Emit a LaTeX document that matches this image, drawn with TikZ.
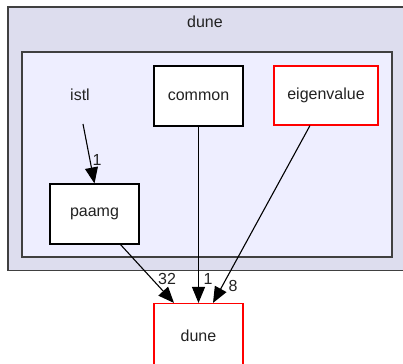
\documentclass[tikz,border=0pt]{standalone}
\usepackage{fontspec}
\setmainfont{Liberation Sans}
\usetikzlibrary{arrows.meta}
\definecolor{outerfill}{HTML}{DDDDEE}
\definecolor{innerfill}{HTML}{EEEEFF}
\definecolor{frame}{HTML}{404040}
\definecolor{txt}{HTML}{222222}
\tikzset{
  lbl/.style={font=\fontsize{16}{18}\selectfont, text=txt},
  dirbox/.style={lbl, draw=black, fill=white, line width=1.1pt, minimum width=89pt, minimum height=60pt, inner sep=0pt},
  redbox/.style={dirbox, draw=red},
  dep/.style={line width=1.1pt, -{Triangle[length=16pt, width=13pt]}},
  cnt/.style={lbl, inner sep=1pt}
}
\begin{document}
\begin{tikzpicture}[x=1pt, y=1pt]
\useasboundingbox (0,0) rectangle (403,363);
% enclosing folders
\draw[frame, fill=outerfill, line width=1.4pt] (8,356) rectangle (410,92.5);
\node[lbl] (outerlbl) at (205,341) {dune};
\draw[frame, fill=innerfill, line width=1.4pt] (22,311) rectangle (392,106);
% folders
\node[lbl] (istl) at (80,268) {istl};
\node[dirbox] (common) at (198.5,267) {common};
\node[redbox, minimum width=104pt, minimum height=59pt] (eigen) at (326,267.5) {eigenvalue};
\node[dirbox] (paamg) at (94.5,149) {paamg};
\node[redbox, minimum height=64pt] (dune) at (198.5,27.5) {dune};
% connector end points
\coordinate (istlb) at (83,239);
\coordinate (paout) at ([xshift=26pt]paamg.south);
\coordinate (dunein1) at ([xshift=-24.5pt]dune.north);
\coordinate (eigout) at ([xshift=-16pt]eigen.south);
\coordinate (dunein3) at ([xshift=14.5pt]dune.north);
% dependencies
\draw[dep] (istlb) -- (paamg.north);
\draw[dep] (paout) -- (dunein1);
\draw[dep] (common.south) -- (dune.north);
\draw[dep] (eigout) -- (dunein3);
% counts
\node[cnt] (c1) at (97,203) {1};
\node[cnt] (c32) at (167,84) {32};
\node[cnt] (c2) at (208,84) {1};
\node[cnt] (c8) at (233,77) {8};
\end{tikzpicture}
\end{document}
